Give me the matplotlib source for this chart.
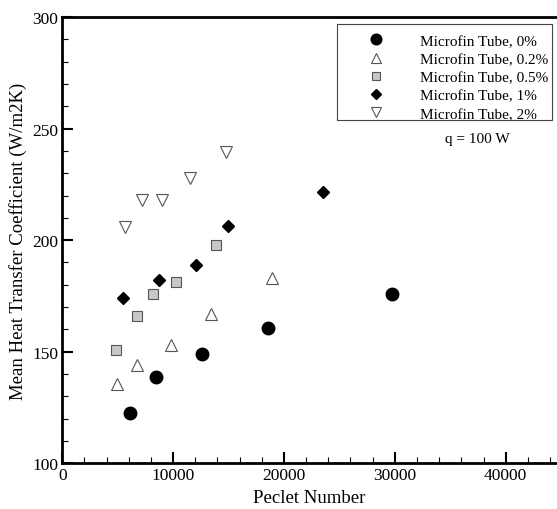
import matplotlib
matplotlib.use('Agg')
import matplotlib.pyplot as plt
from matplotlib.patches import Rectangle
from matplotlib.ticker import MultipleLocator

plt.rcParams['font.family'] = ['Liberation Serif', 'DejaVu Serif']

# Peclet number / mean heat transfer coefficient
pe_0 = [6100, 8450, 12580, 18590, 29720]
h_0 = [122.5, 138.5, 149.0, 160.8, 176.0]

pe_02 = [4900, 6770, 9830, 13390, 18940]
h_02 = [135.5, 144.2, 152.8, 167.0, 183.0]

pe_05 = [4840, 6740, 8180, 10230, 13870]
h_05 = [150.8, 166.0, 175.7, 181.2, 197.7]

pe_1 = [5450, 8750, 12090, 14920, 23490]
h_1 = [174.3, 182.3, 188.8, 206.5, 221.6]

pe_2 = [5630, 7190, 8990, 11520, 14740]
h_2 = [205.8, 218.0, 218.0, 227.8, 239.6]

labels = ['Microfin Tube, 0%', 'Microfin Tube, 0.2%', 'Microfin Tube, 0.5%',
          'Microfin Tube, 1%', 'Microfin Tube, 2%']

W, H = 557, 510
fig = plt.figure(figsize=(W / 100, H / 100), dpi=100)
ax = fig.add_axes([0.1118, 0.0896, 0.8882, 0.8751])

ax.plot(pe_0, h_0, 'o', ms=9, mfc='black', mec='black', label=labels[0])
ax.plot(pe_02, h_02, '^', ms=8, mfc='white', mec='#555555', mew=0.8, label=labels[1])
ax.plot(pe_05, h_05, 's', ms=7, mfc='#c8c8c8', mec='#555555', mew=0.8, label=labels[2])
ax.plot(pe_1, h_1, 'D', ms=6.5, mfc='black', mec='black', label=labels[3])
ax.plot(pe_2, h_2, 'v', ms=8, mfc='white', mec='#555555', mew=0.8, label=labels[4])

ax.set_xlim(0, 44630)
ax.set_ylim(100, 300)
ax.xaxis.set_major_locator(MultipleLocator(10000))
ax.xaxis.set_minor_locator(MultipleLocator(2000))
ax.yaxis.set_major_locator(MultipleLocator(50))
ax.yaxis.set_minor_locator(MultipleLocator(10))
ax.tick_params(which='major', direction='in', length=8, width=1.5, labelsize=12.5, pad=3)
ax.tick_params(which='minor', direction='in', length=4, width=0.8)
ax.spines['right'].set_visible(False)
for s in ['left', 'bottom', 'top']:
    ax.spines[s].set_linewidth(2)

ax.set_xlabel('Peclet Number', fontsize=13.5, labelpad=4)
ax.set_ylabel('Mean Heat Transfer Coefficient (W/m2K)', fontsize=13.5, labelpad=4)

# legend entries without frame, box drawn separately
leg = ax.legend(loc='upper left', bbox_to_anchor=(342 / W, 1 - 35 / H),
                bbox_transform=fig.transFigure, borderaxespad=0, borderpad=0,
                frameon=False, fontsize=11, handletextpad=0.63, labelspacing=0.3,
                handlelength=4.5, markerscale=0.85)
fig.add_artist(Rectangle((337.3 / W, 1 - 121 / H), (552 - 337.3) / W, 96 / H,
                         transform=fig.transFigure, fill=False, ec='#444444', lw=0.8))

fig.text(477 / W, 1 - 140 / H, 'q = 100 W', ha='center', va='center', fontsize=11)

fig.savefig('out.png', dpi=100)
